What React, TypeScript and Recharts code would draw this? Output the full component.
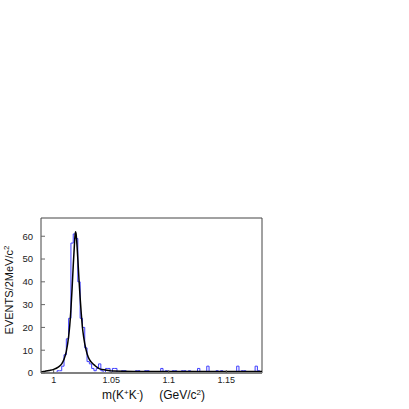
import React from 'react';
import { ComposedChart, Line, XAxis, YAxis, ReferenceLine } from 'recharts';

// Histogram: 2 MeV bins starting at 0.989 GeV
const BIN_START = 0.989;
const BIN_WIDTH = 0.002;
const counts = [
  0, 0, 0, 0, 0, 0, 0, 1, 1, 3,
  8, 15, 24, 57, 61, 59, 40, 24, 20, 11,
  5, 4, 2, 1, 2, 4, 1, 0, 2, 2,
  0, 2, 2, 0, 0, 1, 1, 0, 0, 0,
  0, 1, 1, 0, 0, 1, 1, 0, 0, 0,
  0, 0, 2, 0, 1, 0, 0, 1, 1, 0,
  0, 1, 1, 0, 1, 0, 0, 0, 2, 0,
  0, 0, 3, 0, 0, 0, 1, 0, 1, 0,
  0, 0, 0, 0, 0, 3, 0, 1, 1, 0,
  0, 0, 0, 3, 1, 0,
];

// Fit curve
const fitMass = [
  0.989, 0.992, 0.996, 1.0, 1.004, 1.007, 1.009, 1.011, 1.013, 1.014,
  1.015, 1.016, 1.017, 1.018, 1.0185, 1.019, 1.0195, 1.02, 1.021, 1.022,
  1.023, 1.024, 1.025, 1.026, 1.028, 1.03, 1.033, 1.036, 1.04, 1.045,
  1.05, 1.06, 1.08, 1.12, 1.181,
];
const fitValue = [
  0.4, 0.7, 1.1, 1.6, 2.6, 4.0, 6.0, 9.5, 16, 21,
  28, 37, 47, 56, 60, 62, 61, 58, 50, 41,
  33, 26, 20, 16, 10.5, 7, 4.6, 3.2, 1.8, 1.3,
  1.0, 0.8, 0.7, 0.7, 0.7,
];

const xTicks = [1, 1.05, 1.1, 1.15];
const yTicks = [0, 10, 20, 30, 40, 50, 60];
const X_DOMAIN: [number, number] = [0.989, 1.181];
const Y_MAX = 68;

const histData = counts
  .map((v, i) => ({ m: +(BIN_START + i * BIN_WIDTH).toFixed(3), v }))
  .concat([{ m: +(BIN_START + counts.length * BIN_WIDTH).toFixed(3), v: counts[counts.length - 1] }]);
const fitData = fitMass.map((m, i) => ({ m, f: fitValue[i] }));

const FONT = '"Liberation Sans", Arial, Helvetica, sans-serif';

export default function App() {
  return (
    <div style={{ position: 'absolute', left: 0, top: 0, width: 409, height: 409, background: '#fff' }}>
      <ComposedChart width={409} height={409} margin={{ top: 218, right: 147, bottom: 0, left: 0 }}>
        <XAxis
          dataKey="m"
          type="number"
          domain={X_DOMAIN}
          allowDataOverflow
          ticks={xTicks}
          tickFormatter={(v: number) => String(v)}
          height={36}
          axisLine={{ stroke: '#808080', strokeWidth: 2 }}
          tickLine={{ stroke: '#555' }}
          tickSize={-3}
          tickMargin={7}
          tick={{ fontSize: 9, fontFamily: FONT, fill: '#222' }}
        />
        <YAxis
          type="number"
          domain={[0, Y_MAX]}
          allowDataOverflow
          ticks={yTicks}
          width={41}
          axisLine={{ stroke: '#444' }}
          tickLine={{ stroke: '#666' }}
          tickSize={-4}
          tickMargin={12}
          tick={{ fontSize: 9.5, fontFamily: FONT, fill: '#222' }}
        />
        <ReferenceLine y={Y_MAX} stroke="#444" />
        <ReferenceLine x={X_DOMAIN[1]} stroke="#444" />
        <Line
          data={histData}
          dataKey="v"
          type="stepAfter"
          stroke="#3d3dff"
          strokeWidth={1}
          dot={false}
          isAnimationActive={false}
        />
        <Line
          data={fitData}
          dataKey="f"
          type="monotone"
          stroke="#000"
          strokeWidth={1.5}
          dot={false}
          isAnimationActive={false}
        />
      </ComposedChart>
      <svg
        width={409}
        height={409}
        style={{ position: 'absolute', left: 0, top: 0, pointerEvents: 'none', overflow: 'visible' }}
      >
        <text x={102} y={399} textAnchor="start" fontSize={12} fontFamily={FONT} fill="#111">
          m(K<tspan dy={-4.5} fontSize={8}>+</tspan>
          <tspan dy={4.5}>K</tspan>
          <tspan dy={-4.5} fontSize={8}>-</tspan>
          <tspan dy={4.5}>)</tspan>
        </text>
        <text x={205} y={399} textAnchor="end" fontSize={12} fontFamily={FONT} fill="#111">
          (GeV/c<tspan dy={-4.5} fontSize={8}>2</tspan>
          <tspan dy={4.5}>)</tspan>
        </text>
        <g transform="translate(12.5, 290) rotate(-90)">
          <text x={0} y={0} textAnchor="middle" fontSize={11} fontFamily={FONT} fill="#111">
            EVENTS/2MeV/c<tspan dy={-4} fontSize={8}>2</tspan>
          </text>
        </g>
      </svg>
    </div>
  );
}
